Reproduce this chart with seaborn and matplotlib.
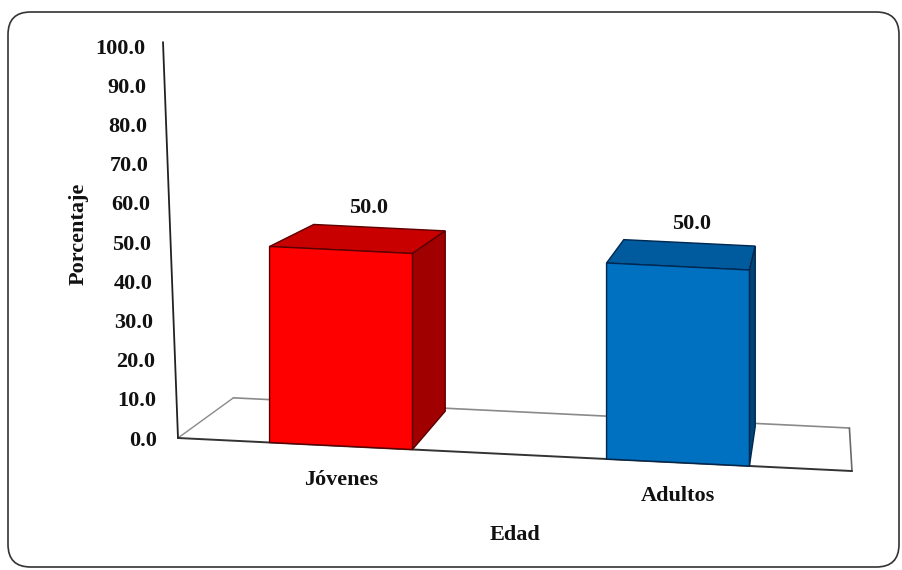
import numpy as np
import pandas as pd
import matplotlib
matplotlib.use("Agg")
import matplotlib.pyplot as plt
import seaborn as sns
from matplotlib.transforms import Affine2D, IdentityTransform, ScaledTranslation
from matplotlib.patches import Polygon, FancyBboxPatch
from matplotlib.lines import Line2D

# ---- data ----
categories = ["Jóvenes", "Adultos"]
values = [50.0, 50.0]
value_labels = ["50.0", "50.0"]
yticks = [0, 10, 20, 30, 40, 50, 60, 70, 80, 90, 100]
ytick_labels = ["0.0", "10.0", "20.0", "30.0", "40.0", "50.0", "60.0", "70.0", "80.0", "90.0", "100.0"]
x_title = "Edad"
y_title = "Porcentaje"

front_colors = ["#FF0000", "#0070C0"]
top_colors = ["#C80000", "#005A9E"]
side_colors = ["#A00000", "#004478"]
edge_colors = ["#5A0000", "#00284F"]

W, H, DPI = 903, 570, 100
sns.set_style("white")
plt.rcParams["font.family"] = ["Liberation Serif", "DejaVu Serif"]
plt.rcParams["font.weight"] = "bold"

fig = plt.figure(figsize=(W / DPI, H / DPI), dpi=DPI)

# axes placed in pixel geometry
ax_left, ax_right = 178, 852
ax_bottom_img, ax_top_img = 438, 46
ax = fig.add_axes([ax_left / W, (H - ax_bottom_img) / H,
                   (ax_right - ax_left) / W, (ax_bottom_img - ax_top_img) / H])

df = pd.DataFrame({"Edad": categories, "Porcentaje": values})
sns.barplot(data=df, x="Edad", y="Porcentaje", hue="Edad", palette=front_colors,
            width=0.424, legend=False, ax=ax, saturation=1)

x_px_per_unit = 337.0
xlim0 = -(341 - ax_left) / x_px_per_unit
xlim1 = xlim0 + (ax_right - ax_left) / x_px_per_unit
ax.set_xlim(xlim0, xlim1)
ax.set_ylim(0, 100)
for sp in ax.spines.values():
    sp.set_visible(False)
ax.patch.set_alpha(0)

# perspective-like shear: floor line slopes downwards to the right
s = 0.049
shear = Affine2D().translate(-ax_left, 0).skew(0, np.arctan(-s)).translate(ax_left, 0)
T = ax.transData + shear

# vanishing point (display coords, y up)
V = np.array([822.0, H + 29.0])
f_bar = 0.08
f_floor = 0.086

def back(p, f):
    p = np.asarray(p, dtype=float)
    return p + f * (V - p)

# floor
fl = T.transform([(xlim0, 0), (xlim1, 0)])
bl = back(fl[0], f_floor)
br = back(fl[1], f_floor)
for (a, b, c, lw) in [(fl[0], bl, "#8a8a8a", 1.0), (bl, br, "#8a8a8a", 1.2),
                      (br, fl[1], "#6a6a6a", 1.2), (fl[0], fl[1], "#333333", 1.4)]:
    ln = Line2D([a[0], b[0]], [a[1], b[1]], color=c, lw=lw, transform=IdentityTransform(), zorder=1)
    ln.set_clip_on(False)
    ax.add_line(ln)

# y axis line (slightly tilted like the reference)
top_shift = -15.0 / x_px_per_unit
yl = Line2D([xlim0, xlim0 + top_shift], [0, 101], color="#222222", lw=1.3,
            transform=ax.transData, zorder=1)
yl.set_clip_on(False)
ax.add_line(yl)

# bars with depth faces
bars = list(ax.patches)
for i, p in enumerate(bars):
    x0, w, h = p.get_x(), p.get_width(), p.get_height()
    pts = T.transform([(x0, 0), (x0 + w, 0), (x0 + w, h), (x0, h)])
    fl_b, fr_b, fr_t, fl_t = pts
    bl_t, br_t, br_b = back(fl_t, f_bar), back(fr_t, f_bar), back(fr_b, f_bar)
    top = Polygon([fl_t, fr_t, br_t, bl_t], closed=True, facecolor=top_colors[i],
                  edgecolor=edge_colors[i], lw=1.0, transform=IdentityTransform(), zorder=2)
    side = Polygon([fr_b, br_b, br_t, fr_t], closed=True, facecolor=side_colors[i],
                   edgecolor=edge_colors[i], lw=1.0, transform=IdentityTransform(), zorder=2)
    for poly in (top, side):
        poly.set_clip_on(False)
        ax.add_patch(poly)
    p.set_transform(T)
    p.set_clip_on(False)
    p.set_edgecolor(edge_colors[i])
    p.set_linewidth(1.0)
    p.set_zorder(3)
    # value label above top face
    c = (fl_t + fr_t + br_t + bl_t) / 4.0
    ax.text(c[0] + 8, c[1] + 31, value_labels[i], transform=IdentityTransform(),
            ha="center", va="center", fontsize=16, fontweight="bold", color="#111111")

# ticks
ax.set_yticks(yticks)
ax.set_yticklabels(ytick_labels)
ax.set_xticks([0, 1])
ax.set_xticklabels(categories)
ax.tick_params(axis="y", length=0, pad=15, labelsize=16, labelcolor="#111111")
ax.tick_params(axis="x", length=0, pad=17, labelsize=16, labelcolor="#111111")
for lab in ax.get_yticklabels():
    lab.set_fontweight("bold")
for lab in ax.get_xticklabels():
    lab.set_fontweight("bold")

ax.set_xlabel(x_title, fontsize=16, fontweight="bold", color="#111111")
ax.set_ylabel(y_title, fontsize=16, fontweight="bold", color="#111111")
ax.xaxis.set_label_coords(0.5, -(525 - ax_bottom_img) / (ax_bottom_img - ax_top_img))
ax.yaxis.set_label_coords((89 - ax_left) / (ax_right - ax_left), (ax_bottom_img - 234) / (ax_bottom_img - ax_top_img))

fig.canvas.draw()
for t in ax.yaxis.get_major_ticks():
    v = t.get_loc()
    off = ScaledTranslation(-(12.0 * v / 100.0) / DPI, 0, fig.dpi_scale_trans)
    t.label1.set_transform(t.label1.get_transform() + off)
for t in ax.xaxis.get_major_ticks():
    t.label1.set_transform(t.label1.get_transform() + shear)
    t.label1.set_clip_on(False)

# rounded frame around the chart
frame = FancyBboxPatch((8 / W, 3 / H), (W - 12) / W, (H - 15) / H,
                       boxstyle="round,pad=0,rounding_size=0.025", transform=fig.transFigure,
                       facecolor="none", edgecolor="#333333", lw=1.2, mutation_aspect=W / H)
fig.add_artist(frame)

fig.savefig("out.png", dpi=DPI)
